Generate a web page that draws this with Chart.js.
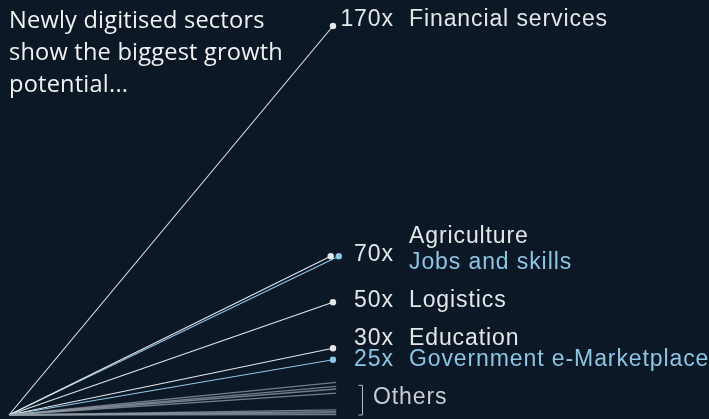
<!DOCTYPE html>
<html>
<head>
<meta charset="utf-8">
<script src="https://cdn.jsdelivr.net/npm/chart.js@4"></script>
<style>
  html, body { margin: 0; padding: 0; background: #0c1826; }
  #wrap { position: relative; width: 709px; height: 419px; }
  #title {
    position: absolute; left: 9px; top: 3px;
    font-family: "Open Sans", sans-serif; font-size: 23.6px; line-height: 32px;
    letter-spacing: 0.2px; color: #f2f2f2;
  }
</style>
</head>
<body>
<div id="wrap">
  <canvas id="growth" width="709" height="419"></canvas>
  <div id="title">Newly digitised sectors<br>show the biggest growth<br>potential...</div>
</div>
<script>
// growth multiples (everything starts at 1x)
const sectors = ['Financial services', 'Agriculture', 'Jobs and skills', 'Logistics', 'Education', 'Government e-Marketplace'];
const growth = [170, 70, 70, 50, 30, 25];
const othersGrowth = [15.2, 13.4, 12.3, 10.5, 3.2, 2.5, 1.9, 1.2];
const startLevel = 1;
const horizon = 10;

// styling
const white = '#e4e7ea';
const blue = '#8cc6e4';
const grey = 'rgba(150,158,168,0.75)';
const blueOnes = ['Jobs and skills', 'Government e-Marketplace'];
const nudge = { 'Agriculture': -0.07, 'Jobs and skills': 0.18 };
// label baselines relative to the end dot: [value, name]; null = no value text
const labelShift = {
  'Financial services': [0, 0],
  'Agriculture': [5, -13],
  'Jobs and skills': [null, 13],
  'Logistics': [5, 5],
  'Education': [-3, -3],
  'Government e-Marketplace': [6, 6]
};

function colorOf(name) {
  return blueOnes.includes(name) ? blue : white;
}

let datasets = [];
othersGrowth.forEach(function (v, i) {
  datasets.push({
    label: 'Others ' + (i + 1),
    data: [{ x: 0, y: startLevel }, { x: horizon + 0.1, y: v }],
    borderColor: grey,
    borderWidth: 1.3,
    pointRadius: 0,
    clip: false
  });
});
sectors.forEach(function (name, i) {
  datasets.push({
    label: name,
    value: growth[i],
    data: [{ x: 0, y: startLevel }, { x: horizon + (nudge[name] || 0), y: growth[i] }],
    borderColor: colorOf(name),
    backgroundColor: colorOf(name),
    borderWidth: 1.1,
    pointRadius: [0, 3.2],
    pointBorderWidth: 0,
    pointBackgroundColor: colorOf(name),
    clip: false
  });
});

const endLabels = {
  id: 'endLabels',
  afterDatasetsDraw(chart) {
    const ctx = chart.ctx;
    const end = chart.scales.x.getPixelForValue(horizon);
    const bottom = chart.scales.y.getPixelForValue(startLevel);
    const valueRight = end + 60;
    const nameLeft = end + 76;
    ctx.save();
    ctx.font = '23px "Liberation Sans", Arial, sans-serif';
    ctx.letterSpacing = '0.9px';
    ctx.textBaseline = 'alphabetic';
    chart.data.datasets.forEach(function (ds, i) {
      if (ds.value === undefined) return;
      const pt = chart.getDatasetMeta(i).data[1];
      const shift = labelShift[ds.label];
      ctx.fillStyle = colorOf(ds.label);
      if (shift[0] !== null) {
        ctx.textAlign = 'right';
        ctx.fillText(ds.value + 'x', valueRight + 0.9, pt.y + shift[0]);
      }
      ctx.textAlign = 'left';
      ctx.fillText(ds.label, nameLeft, pt.y + shift[1]);
    });
    // bracket for the others
    const ys = chart.data.datasets
      .map(function (ds, i) { return ds.value === undefined ? chart.getDatasetMeta(i).data[1].y : null; })
      .filter(function (y) { return y !== null; });
    const top = Math.min.apply(null, ys) + 3;
    const bx = end + 29.5;
    ctx.strokeStyle = '#b8bec4';
    ctx.lineWidth = 1;
    ctx.beginPath();
    ctx.moveTo(bx - 4, top);
    ctx.lineTo(bx, top);
    ctx.lineTo(bx, bottom);
    ctx.lineTo(bx - 4, bottom);
    ctx.stroke();
    ctx.fillStyle = '#c9cdd1';
    ctx.textAlign = 'left';
    ctx.fillText('Others', end + 40, top + 19);
    ctx.restore();
  }
};

new Chart(document.getElementById('growth').getContext('2d'), {
  type: 'line',
  data: { datasets: datasets },
  options: {
    responsive: false,
    animation: false,
    // x runs a little past the horizon so the nudged end dots stay inside the area
    layout: { padding: { left: 9, top: 26, right: 366.3, bottom: 3 } },
    scales: {
      x: { type: 'linear', min: 0, max: horizon + 0.3, display: false },
      y: { type: 'linear', min: startLevel, max: 170, display: false }
    },
    plugins: { legend: { display: false }, tooltip: { enabled: false } }
  },
  plugins: [endLabels]
});
</script>
</body>
</html>
